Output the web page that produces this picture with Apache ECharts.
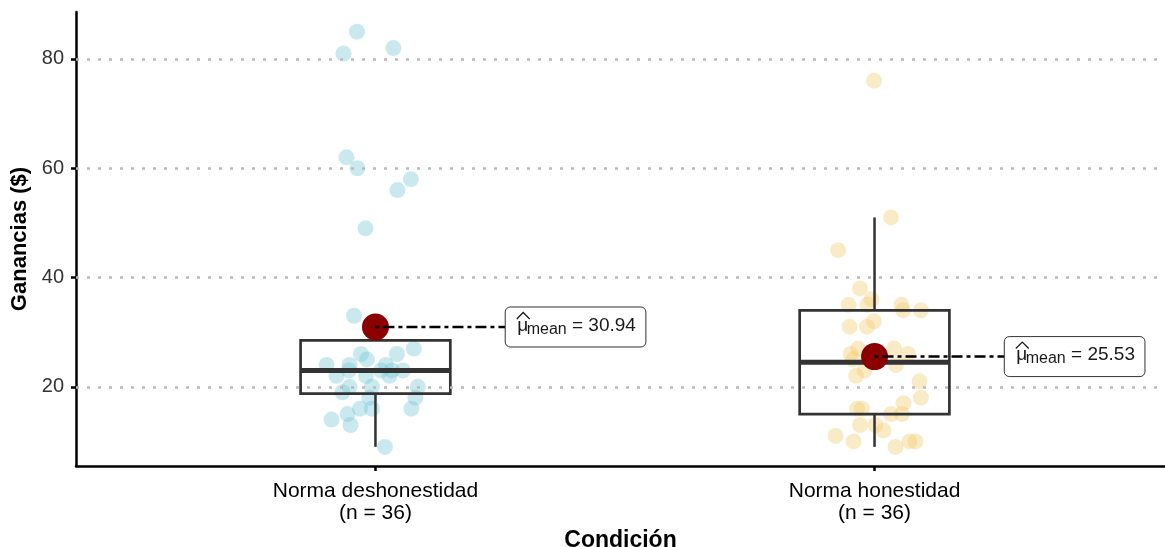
<!DOCTYPE html>
<html>
<head>
<meta charset="utf-8">
<script src="https://cdn.jsdelivr.net/npm/echarts@6/dist/echarts.min.js"></script>
<style>
  html, body { margin: 0; padding: 0; background: #ffffff; }
  #chart { width: 1165px; height: 547px; }
</style>
</head>
<body>
<div id="chart"></div>
<script>
// Categories shown on the x axis
const categories = ['Norma deshonestidad', 'Norma honestidad'];

// Earnings per participant, condition "Norma deshonestidad"
const gananciasDeshonestidad = [85, 81, 82, 62, 60, 58, 56, 49, 33, 24, 26, 24, 25, 26, 27, 22, 23, 22,
  24, 23, 23, 23, 22, 20, 19, 20, 20, 18, 18, 16, 16, 16, 14, 15, 13, 9];
// Horizontal jitter of each point (in category units)
const jitterDeshonestidad = [-0.037, -0.064, 0.036, -0.058, -0.036, 0.071, 0.044, -0.020, -0.043, -0.098,
  -0.029, -0.052, -0.017, 0.043, 0.077, -0.078, -0.053, -0.019, 0.021, 0.011, 0.033, 0.055, 0.028,
  -0.052, -0.066, -0.007, 0.085, 0.080, -0.012, -0.031, -0.007, 0.072, -0.088, -0.056, -0.050, 0.019];

// Earnings per participant, condition "Norma honestidad"
const gananciasHonestidad = [76, 51, 45, 38, 36, 35, 35, 35, 34, 34, 32, 31, 31, 27, 27, 26, 26, 25,
  24, 23, 22, 21, 18, 17, 16, 16, 15, 15, 13, 13, 12, 11, 10, 9, 10, 10];
const jitterHonestidad = [-0.001, 0.033, -0.073, -0.029, -0.006, -0.052, -0.014, 0.054, 0.057, 0.093,
  -0.001, -0.050, -0.015, -0.033, 0.039, -0.048, 0.067, -0.043, 0.043, -0.020, -0.037, 0.090, 0.093,
  0.058, -0.035, -0.025, 0.033, 0.055, -0.029, 0.002, 0.018, -0.078, -0.042, 0.042, 0.070, 0.082];

// Y axis ticks
const yTicks = [20, 40, 60, 80];

const groups = [gananciasDeshonestidad, gananciasHonestidad];
const jitters = [jitterDeshonestidad, jitterHonestidad];

// ---- summary statistics ----
function quantile(sorted, p) {
  const h = (sorted.length - 1) * p;
  const lo = Math.floor(h), hi = Math.ceil(h);
  return sorted[lo] + (h - lo) * (sorted[hi] - sorted[lo]);
}
function boxStats(values) {
  const s = values.slice().sort((a, b) => a - b);
  const q1 = quantile(s, 0.25), med = quantile(s, 0.5), q3 = quantile(s, 0.75);
  const iqr = q3 - q1;
  const lowFence = q1 - 1.5 * iqr, highFence = q3 + 1.5 * iqr;
  const lo = s.find(v => v >= lowFence);
  const hi = s.slice().reverse().find(v => v <= highFence);
  return [lo, q1, med, q3, hi];
}
const mean = arr => arr.reduce((a, b) => a + b, 0) / arr.length;

const BOX_WIDTH = 0.3;
const LABEL_SHIFT = 0.26;
const FONT = '"Liberation Sans", Arial, sans-serif';

const boxData = groups.map((g, i) => [i + 1].concat(boxStats(g)));
const means = groups.map(mean);
const meanData = means.map((m, i) => [i + 1, m]);

const pointColors = ['rgba(108, 194, 208, 0.45)', 'rgba(240, 200, 100, 0.45)'];

// text measurement for the mean labels
const measureCtx = document.createElement('canvas').getContext('2d');
function textWidth(str, size) {
  measureCtx.font = size + 'px ' + FONT;
  return measureCtx.measureText(str).width;
}

const series = [];

// dotted horizontal gridlines
series.push({
  type: 'line', data: [], z: 1, silent: true,
  markLine: {
    silent: true, symbol: 'none', label: { show: false }, animation: false,
    lineStyle: { color: '#bababa', width: 2.5, type: [3, 8] },
    data: yTicks.map(v => ({ yAxis: v }))
  }
});

// jittered raw observations
groups.forEach((g, i) => {
  series.push({
    type: 'scatter', z: 2, symbolSize: 16,
    itemStyle: { color: pointColors[i] },
    data: g.map((v, k) => [i + 1 + jitters[i][k], v])
  });
});

// boxplots
series.push({
  type: 'custom', z: 3,
  data: boxData,
  renderItem: function (params, api) {
    const x = api.value(0);
    const lo = api.value(1), q1 = api.value(2), med = api.value(3), q3 = api.value(4), hi = api.value(5);
    const h = BOX_WIDTH / 2;
    const tl = api.coord([x - h, q3]);
    const br = api.coord([x + h, q1]);
    const mL = api.coord([x - h, med]);
    const mR = api.coord([x + h, med]);
    const wTop = api.coord([x, hi]);
    const wQ3 = api.coord([x, q3]);
    const wQ1 = api.coord([x, q1]);
    const wBot = api.coord([x, lo]);
    const stroke = '#333333';
    return {
      type: 'group',
      children: [
        { type: 'line', shape: { x1: wQ3[0], y1: wQ3[1], x2: wTop[0], y2: wTop[1] }, style: { stroke, lineWidth: 2.5 } },
        { type: 'line', shape: { x1: wQ1[0], y1: wQ1[1], x2: wBot[0], y2: wBot[1] }, style: { stroke, lineWidth: 2.5 } },
        { type: 'rect', shape: { x: tl[0], y: tl[1], width: br[0] - tl[0], height: br[1] - tl[1] },
          style: { fill: 'none', stroke, lineWidth: 2.7 } },
        { type: 'line', shape: { x1: mL[0], y1: mL[1], x2: mR[0], y2: mR[1] }, style: { stroke, lineWidth: 5 } }
      ]
    };
  }
});

// mean markers
series.push({
  type: 'scatter', z: 4, symbolSize: 27,
  itemStyle: { color: '#8b0000', opacity: 1 },
  data: meanData
});

// connectors from mean to its label
meanData.forEach(([x, m]) => {
  series.push({
    type: 'line', z: 5, symbol: 'none', silent: true,
    lineStyle: { color: '#000000', width: 2.5, type: [4, 4, 11, 4] },
    data: [[x, m], [x + LABEL_SHIFT, m]]
  });
});

// mean labels: boxed  mu-hat  with subscript "mean"  = value
series.push({
  type: 'custom', z: 6, silent: true,
  data: meanData.map(([x, m]) => [x + LABEL_SHIFT, m]),
  renderItem: function (params, api) {
    const p = api.coord([api.value(0), api.value(1)]);
    const valStr = ' = ' + api.value(1).toFixed(2);
    const main = 19, sub = 16;
    const left = p[0], cy = p[1];
    const muX = left + 12;
    const muW = textWidth('\u03bc', main);
    const subX = muX + muW - 1.5;
    const subW = textWidth('mean', sub);
    const valX = subX + subW;
    const valW = textWidth(valStr, main);
    const boxW = valX + valW - left + 10;
    const baseline = cy + 5;
    const txt = (t, x, size, yBase) => ({
      type: 'text',
      style: { text: t, x: x, y: yBase - 0.35 * size, fontFamily: FONT, fontSize: size,
               fill: '#1a1a1a', align: 'left', verticalAlign: 'middle' }
    });
    return {
      type: 'group',
      children: [
        { type: 'rect', shape: { x: left, y: cy - 20, width: boxW, height: 40, r: 5 },
          style: { fill: '#ffffff', stroke: '#333333', lineWidth: 1 } },
        txt('\u03bc', muX, main, baseline),
        { type: 'polyline',
          shape: { points: [[muX - 0.5, cy - 8], [muX + muW / 2 + 0.5, cy - 14.5], [muX + muW + 1.5, cy - 8]] },
          style: { stroke: '#1a1a1a', lineWidth: 1.3, fill: 'none' } },
        txt('mean', subX, sub, baseline + 3),
        txt(valStr, valX, main, baseline)
      ]
    };
  }
});

const chart = echarts.init(document.getElementById('chart'), null, { renderer: 'canvas' });
chart.setOption({
  backgroundColor: '#ffffff',
  animation: false,
  grid: { left: 76, right: 0, top: 12, bottom: 81, outerBoundsMode: 'none', containLabel: false },
  xAxis: {
    type: 'value', min: 0.4, max: 2.582,
    name: 'Condición', nameLocation: 'middle', nameGap: 60,
    nameTextStyle: { fontFamily: FONT, fontSize: 23, fontWeight: 'bold', color: '#000000' },
    axisLine: { show: true, lineStyle: { color: '#000000', width: 2.5 } },
    axisTick: { show: true, customValues: [1, 2], length: 5, lineStyle: { color: '#000000', width: 2.5 } },
    axisLabel: {
      customValues: [1, 2], margin: 14,
      fontFamily: FONT, fontSize: 21, color: '#000000', lineHeight: 22,
      formatter: v => categories[Math.round(v) - 1] + '\n(n = ' + groups[Math.round(v) - 1].length + ')'
    },
    splitLine: { show: false }
  },
  yAxis: {
    type: 'value', min: 5.5, max: 88.6,
    name: 'Ganancias ($)', nameLocation: 'middle', nameGap: 39,
    nameTextStyle: { fontFamily: FONT, fontSize: 22, fontWeight: 'bold', color: '#000000' },
    axisLine: { show: true, lineStyle: { color: '#000000', width: 2.5 } },
    axisTick: { show: true, customValues: yTicks, length: 5, lineStyle: { color: '#000000', width: 2.5 } },
    axisLabel: { customValues: yTicks, margin: 12, fontFamily: FONT, fontSize: 20, color: '#333333' },
    splitLine: { show: false }
  },
  series: series
});
</script>
</body>
</html>
